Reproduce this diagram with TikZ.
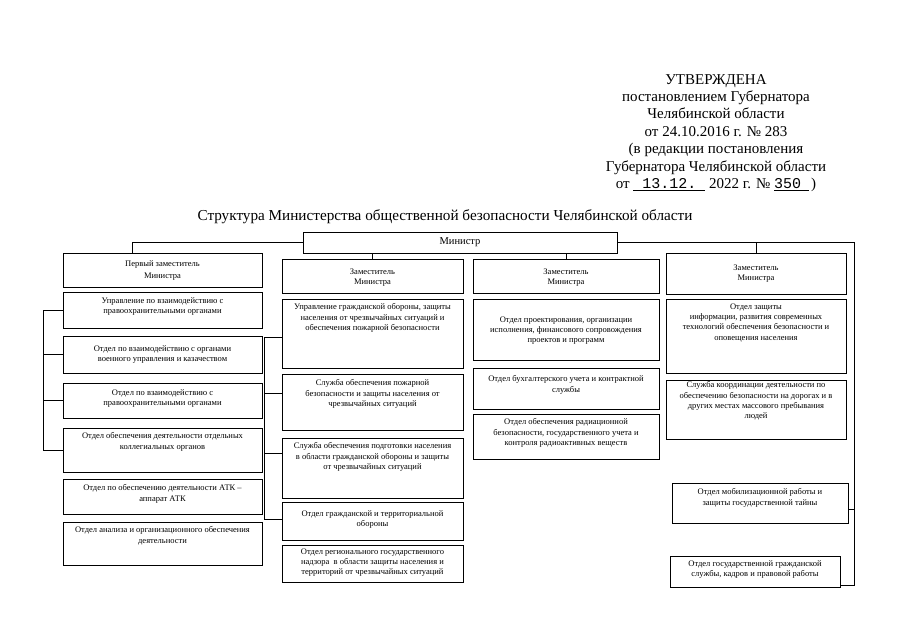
\documentclass[tikz,border=0pt]{standalone}
\usepackage{fontspec}
\setmainfont{Liberation Serif}
\setmonofont{Liberation Mono}
\usetikzlibrary{fit,positioning}

\tikzset{
  unit/.style={draw, line width=0.8pt, inner sep=0pt},
  unittext/.style={font=\fontsize{8.5}{10.2}\selectfont, align=center, inner sep=0pt},
  conn/.style={line width=0.8pt},
}

% box from (x1,y1) to (x2,y2), text set #6 below its top
\newcommand{\unitbox}[7]{%
  \node[unit, fit={(#2,#3) (#4,#5)}] (#1) {};
  \node[unittext, anchor=north] (#1-text) at ([yshift=-#6pt]#1.north) {#7};
}

\begin{document}
\begin{tikzpicture}[x=1pt, y=-1pt]
  \useasboundingbox (0,0) rectangle (905,640);

  % Heading
  \node[font=\fontsize{15}{17.4}\selectfont, align=center, anchor=north, inner sep=0pt] (approved) at (716,74)
    {УТВЕРЖДЕНА\\
     постановлением Губернатора\\
     Челябинской области\\
     от 24.10.2016 г. № 283\\
     (в редакции постановления\\
     Губернатора Челябинской области\\
     от \underline{\texttt{\ 13.12.\ }} 2022 г. № \underline{\texttt{350}\ \ }\,)};
  \node[font=\fontsize{15.2}{18}\selectfont, inner sep=0pt] (title) at (445,217)
    {Структура Министерства общественной безопасности Челябинской области};

  % Minister
  \node[unit, minimum width=314pt, minimum height=21pt, font=\fontsize{10.5}{12}\selectfont] (minister) at (460,242.5) {Министр};

  % First deputy
  \unitbox{d1}{63}{253}{262}{287}{8}{Первый заместитель\\[2pt]Министра}
  \unitbox{c1b1}{63}{292}{262}{328}{6}{Управление по взаимодействию с\\правоохранительными органами}
  \unitbox{c1b2}{63}{336}{262}{373}{10}{Отдел по взаимодействию с органами\\военного управления и казачеством}
  \unitbox{c1b3}{63}{383}{262}{418}{7}{Отдел по взаимодействию с\\правоохранительными органами}
  \unitbox{c1b4}{63}{428}{262}{472}{5}{Отдел обеспечения деятельности отдельных\\коллегиальных органов}
  \unitbox{c1b5}{63}{479}{262}{514}{6}{Отдел по обеспечению деятельности АТК –\\аппарат АТК}
  \unitbox{c1b6}{63}{522}{262}{565}{5}{Отдел анализа и организационного обеспечения\\деятельности}

  % Second column
  \unitbox{d2}{282}{259}{463}{293}{10}{Заместитель\\Министра}
  \unitbox{c2b1}{282}{299}{463}{368}{5}{Управление гражданской обороны, защиты\\населения от чрезвычайных ситуаций и\\обеспечения пожарной безопасности}
  \unitbox{c2b2}{282}{374}{463}{430}{6}{Служба обеспечения пожарной\\безопасности и защиты населения от\\чрезвычайных ситуаций}
  \unitbox{c2b3}{282}{438}{463}{498}{5}{Служба обеспечения подготовки населения\\в области гражданской обороны и защиты\\от чрезвычайных ситуаций}
  \unitbox{c2b4}{282}{502}{463}{540}{9}{Отдел гражданской и территориальной\\обороны}
  \unitbox{c2b5}{282}{545}{463}{582}{4}{Отдел регионального государственного\\надзора \ в области защиты населения и\\территорий от чрезвычайных ситуаций}

  % Third column
  \unitbox{d3}{473}{259}{659}{293}{10}{Заместитель\\Министра}
  \unitbox{c3b1}{473}{299}{659}{360}{18}{Отдел проектирования, организации\\исполнения, финансового сопровождения\\проектов и программ}
  \unitbox{c3b2}{473}{368}{659}{409}{8}{Отдел бухгалтерского учета и контрактной\\службы}
  \unitbox{c3b3}{473}{414}{659}{459}{5}{Отдел обеспечения радиационной\\безопасности, государственного учета и\\контроля радиоактивных веществ}

  % Fourth column
  \unitbox{d4}{666}{253}{846}{294}{12}{Заместитель\\Министра}
  \unitbox{c4b1}{666}{299}{846}{373}{5}{Отдел защиты\\информации, развития современных\\технологий обеспечения безопасности и\\оповещения населения}
  \unitbox{c4b2}{666}{380}{846}{439}{2}{Служба координации деятельности по\\обеспечению безопасности на дорогах и в\\других местах массового пребывания\\людей}
  \unitbox{c4b3}{672}{483}{848}{523}{6}{Отдел мобилизационной работы и\\защиты государственной тайны}
  \unitbox{c4b4}{670}{556}{840}{587}{5}{Отдел государственной гражданской\\службы, кадров и правовой работы}

  % Links from the minister
  \draw[conn] (minister.west) -| ([xshift=-30.5pt]d1.north);
  \draw[conn] (d2.north) -- (d2.north |- minister.south);
  \draw[conn] (d3.north) -- (d3.north |- minister.south);
  \draw[conn] (d4.north) -- (d4.north |- minister.east);
  \coordinate (rbus) at (854,242.5);
  \draw[conn] (minister.east) -- (rbus) |- ([yshift=-13.5pt]c4b4.east);
  \draw[conn] ([yshift=-6pt]c4b3.east) -- ([yshift=-6pt]c4b3.east -| rbus);

  % Left bus of the first column
  \coordinate (lbus1) at (43,300);
  \draw[conn] (c1b1.west) -- (c1b1.west -| lbus1) -- (c1b4.west -| lbus1) -- (c1b4.west);
  \foreach \b in {c1b2,c1b3}
    \draw[conn] (\b.west) -- (\b.west -| lbus1);

  % Left bus of the second column
  \coordinate (lbus2) at (264,300);
  \draw[conn] ([yshift=-3.5pt]c2b1.west) -- ([yshift=-3.5pt]c2b1.west -| lbus2)
    -- ([yshift=2pt]c2b4.west -| lbus2) -- ([yshift=2pt]c2b4.west);
  \draw[conn] ([yshift=9pt]c2b2.west) -- ([yshift=9pt]c2b2.west -| lbus2);
  \draw[conn] ([yshift=15pt]c2b3.west) -- ([yshift=15pt]c2b3.west -| lbus2);
\end{tikzpicture}
\end{document}
